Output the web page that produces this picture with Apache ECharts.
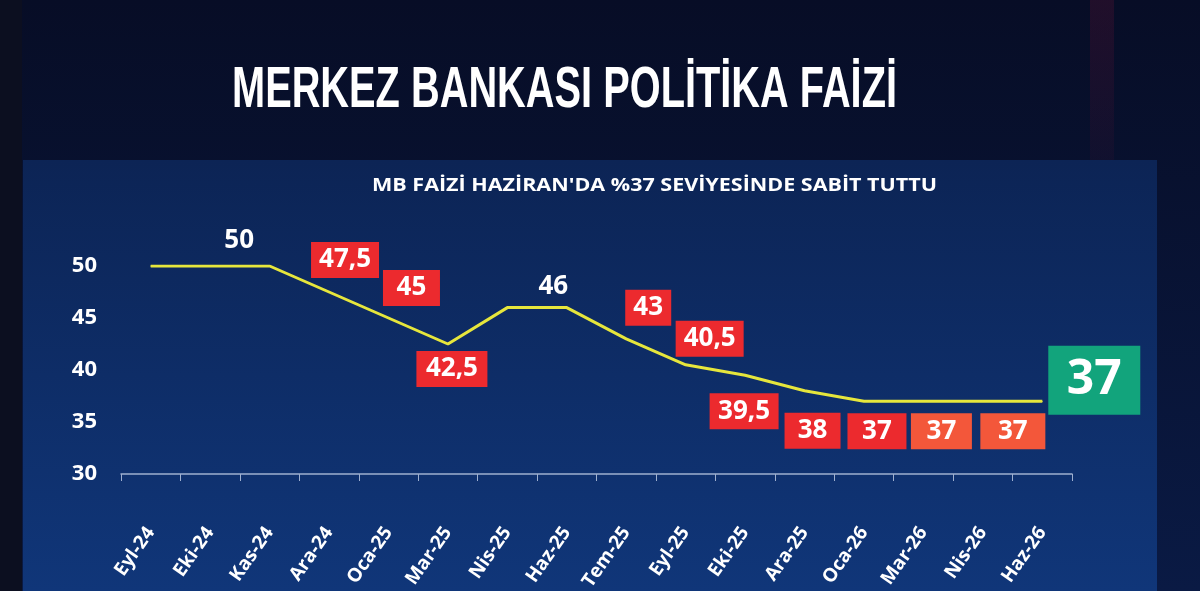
<!DOCTYPE html>
<html>
<head>
<meta charset="utf-8">
<script src="https://cdn.jsdelivr.net/npm/echarts@6/dist/echarts.min.js"></script>
<style>
  html, body { margin: 0; padding: 0; background: #08102a; }
  #chart { width: 1200px; height: 591px; }
</style>
</head>
<body>
<div id="chart"></div>
<script>
// data
const months = ['Eyl-24', 'Eki-24', 'Kas-24', 'Ara-24', 'Oca-25', 'Mar-25', 'Nis-25', 'Haz-25',
  'Tem-25', 'Eyl-25', 'Eki-25', 'Ara-25', 'Oca-26', 'Mar-26', 'Nis-26', 'Haz-26'];
const rates = [50, 50, 50, 47.5, 45, 42.5, 46, 46, 43, 40.5, 39.5, 38, 37, 37, 37, 37];
const yTicks = [30, 35, 40, 45, 50];
const titleText = 'MERKEZ BANKASI POLİTİKA FAİZİ';
const subtitleText = "MB FAİZİ HAZİRAN'DA %37 SEVİYESİNDE SABİT TUTTU";

// label look per point: kind, offset x, offset y, box width
const labelLayout = [
  null,
  ['plain', 29, -25],
  null,
  ['red', 16, -32, 68],
  ['red', 23, -30, 57],
  ['red', 4, 25, 71],
  ['plain', 46, -21],
  null,
  ['red', 22, -31, 46],
  ['red', 24, -26, 68],
  ['red', -1, 36, 69],
  ['red', 8, 40, 56],
  ['red', 13, 30, 59],
  ['orange', 18, 30, 61],
  ['orange', 30, 30, 65],
  ['green', 52, -21, 92]
];

function fmt(v) {
  return String(v).replace('.', ',');
}

function measure(text, font) {
  const ctx = document.createElement('canvas').getContext('2d');
  ctx.font = font;
  return ctx.measureText(text).width;
}

const titleFont = 'bold 57px "Liberation Sans"';
const titleScale = 665 / measure(titleText, titleFont);
const subFont = 'bold 18px "Open Sans"';
const subScale = 565 / measure(subtitleText, subFont);

const seriesData = rates.map((v, i) => {
  const l = labelLayout[i];
  if (!l) return {value: v, label: {show: false}};
  const base = {
    show: true,
    position: 'inside',
    offset: [l[1], l[2]],
    formatter: fmt(v),
    color: '#ffffff',
    fontFamily: 'Open Sans',
    fontWeight: 'bold'
  };
  if (l[0] === 'plain') {
    return {value: v, label: Object.assign(base, {fontSize: 26})};
  }
  if (l[0] === 'green') {
    return {value: v, label: Object.assign(base, {
      fontSize: 48, width: l[3], height: 69, lineHeight: 69, align: 'center',
      backgroundColor: '#12a47c'
    })};
  }
  return {value: v, label: Object.assign(base, {
    fontSize: 26, width: l[3], height: 36, lineHeight: 36, align: 'center',
    backgroundColor: l[0] === 'red' ? '#ec2a2e' : '#f3573a'
  })};
});

const chart = echarts.init(document.getElementById('chart'));
const option = {
  backgroundColor: {
    type: 'linear', x: 0, y: 0, x2: 0, y2: 1,
    colorStops: [{offset: 0, color: '#070d26'}, {offset: 1, color: '#0a1a44'}]
  },
  graphic: [
    {
      type: 'rect', z: -10, silent: true,
      shape: {x: 0, y: 0, width: 22, height: 591},
      style: {fill: '#0c0f20'}
    },
    {
      type: 'rect', z: -10, silent: true,
      shape: {x: 1090, y: 0, width: 24, height: 250},
      style: {fill: {type: 'linear', x: 0, y: 0, x2: 0, y2: 1,
        colorStops: [{offset: 0, color: 'rgba(110,20,55,0.25)'}, {offset: 1, color: 'rgba(110,20,55,0)'}]}}
    },
    {
      type: 'rect', z: -9, silent: true,
      shape: {x: 23, y: 160, width: 1134, height: 431},
      style: {fill: {type: 'linear', x: 0, y: 0, x2: 0, y2: 1,
        colorStops: [{offset: 0, color: '#0c2455'}, {offset: 1, color: '#103679'}]}}
    },
    {
      type: 'text', x: 232, y: 91, scaleX: titleScale, silent: true,
      style: {text: titleText, font: titleFont, fill: '#ffffff',
        textAlign: 'left', textVerticalAlign: 'middle'}
    },
    {
      type: 'text', x: 372, y: 186, scaleX: subScale, silent: true,
      style: {text: subtitleText, font: subFont, fill: '#ffffff',
        textAlign: 'left', textVerticalAlign: 'middle'}
    }
  ],
  grid: {left: 121, right: 128, top: 266, bottom: 117, outerBoundsMode: 'none'},
  xAxis: {
    type: 'category',
    data: months,
    boundaryGap: true,
    axisLine: {show: true, lineStyle: {color: '#9fb0d0', width: 1.5}},
    axisTick: {show: true, length: 7, lineStyle: {color: '#9fb0d0'}},
    axisLabel: {
      interval: 0, rotate: 55, margin: 55,
      color: '#ffffff', fontFamily: 'Open Sans', fontWeight: 'bold', fontSize: 19
    }
  },
  yAxis: {
    type: 'value',
    min: yTicks[0],
    max: yTicks[yTicks.length - 1],
    interval: 5,
    axisLine: {show: false},
    axisTick: {show: false},
    splitLine: {show: false},
    axisLabel: {
      margin: 24, color: '#ffffff', fontFamily: 'Open Sans', fontWeight: 'bold', fontSize: 22
    }
  },
  series: [{
    type: 'line',
    data: seriesData,
    symbol: 'circle',
    symbolSize: 1,
    showSymbol: true,
    itemStyle: {color: '#e6e63c'},
    lineStyle: {color: '#e6e63c', width: 3},
    label: {show: true},
    z: 5
  }],
  animation: false
};
chart.setOption(option);
</script>
</body>
</html>
